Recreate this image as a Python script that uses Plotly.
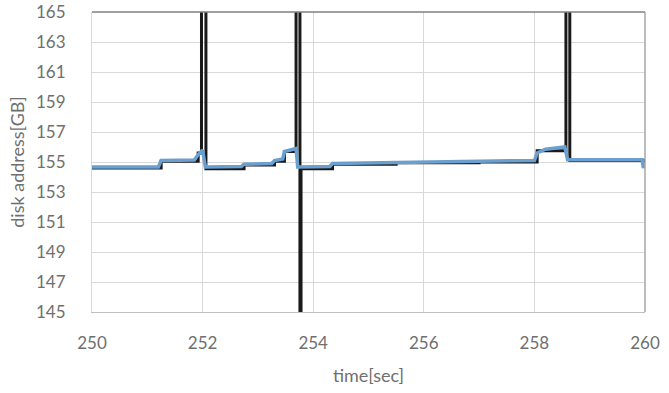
import plotly.graph_objects as go

# Black series (step-like trace, raw addresses)
time_black = [250.0, 251.25, 251.92, 251.98, 252.06, 252.75, 253.3, 253.48, 253.69, 253.76, 253.78,
              254.35, 255.5, 257.0, 258.05, 258.57, 258.64, 260.0]
addr_black = [154.6, 155.05, 155.6, 170.0, 154.55, 154.8, 155.05, 155.7, 170.0, 140.0, 154.55,
              154.85, 154.95, 155.0, 155.75, 170.0, 155.1, 155.1]

# Blue series
time_blue = [250.0, 251.2, 251.25, 251.85, 251.92, 251.98, 252.0, 252.05, 252.7, 252.75, 253.25,
             253.3, 253.45, 253.48, 253.69, 253.72, 254.3, 254.35, 255.0, 256.0, 257.0, 258.0,
             258.05, 258.2, 258.55, 258.6, 259.95, 259.97, 260.0]
addr_blue = [154.67, 154.67, 155.1, 155.13, 155.5, 155.75, 155.8, 154.67, 154.7, 154.85, 154.9,
             155.1, 155.2, 155.7, 155.9, 154.67, 154.7, 154.9, 154.95, 155.0, 155.05, 155.1,
             155.6, 155.85, 156.0, 155.15, 155.15, 154.6, 155.0]

x_ticks = [250, 252, 254, 256, 258, 260]
y_ticks = [145, 147, 149, 151, 153, 155, 157, 159, 161, 163, 165]

fig = go.Figure()
fig.add_trace(go.Scatter(x=time_black, y=addr_black, mode="lines",
                         line=dict(color="#1a1a1a", width=3, shape="hv"), showlegend=False))
fig.add_trace(go.Scatter(x=time_blue, y=addr_blue, mode="lines",
                         line=dict(color="#6aa0d0", width=3.5), showlegend=False))

font = dict(family="Lato, 'Open Sans', sans-serif", size=17, color="#6f6f6f")
title_font = dict(family="Lato, 'Open Sans', sans-serif", size=18, color="#6f6f6f")
fig.update_layout(
    width=669, height=393,
    margin=dict(l=92, r=24, t=12, b=81),
    paper_bgcolor="white", plot_bgcolor="white",
    font=font,
    xaxis=dict(range=[250, 260], tickvals=x_ticks, showgrid=True, gridcolor="#d9d9d9",
               gridwidth=1, zeroline=False, showline=True, linecolor="#bfbfbf",
               title=dict(text="time[sec]", font=title_font, standoff=16),
               ticks="", ticklabelstandoff=16, automargin=False),
    yaxis=dict(range=[145, 165], tickvals=y_ticks, showgrid=True, gridcolor="#d9d9d9",
               gridwidth=1, zeroline=False, showline=True, linecolor="#d9d9d9",
               title=dict(text="disk address[GB]", font=title_font, standoff=6),
               ticks="", ticklabelstandoff=22, automargin=False),
)
fig.add_shape(type="line", xref="x domain", yref="y domain", x0=0, x1=1, y0=1, y1=1,
              line=dict(color="#7f7f7f", width=1.5))
fig.add_shape(type="line", xref="x domain", yref="y domain", x0=1, x1=1, y0=0, y1=1,
              line=dict(color="#a6a6a6", width=1.5))
fig.write_html("out.html")
